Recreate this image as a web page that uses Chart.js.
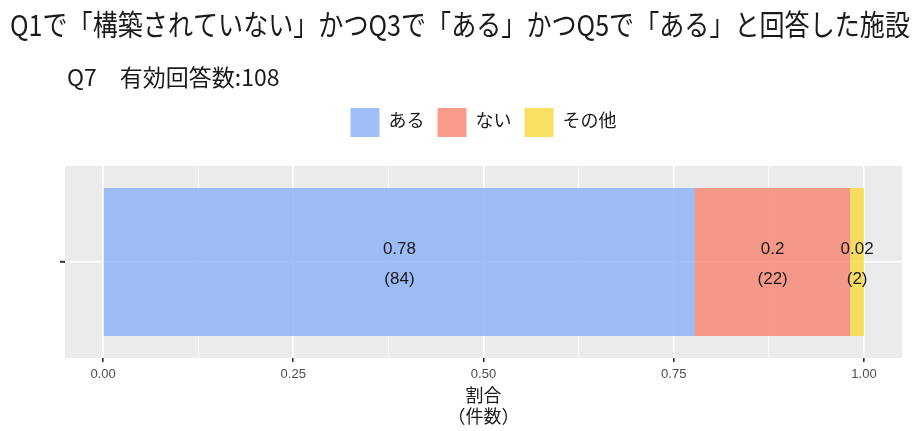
<!DOCTYPE html>
<html>
<head>
<meta charset="utf-8">
<script src="https://cdn.jsdelivr.net/npm/chart.js@4.4.1/dist/chart.umd.min.js"></script>
<style>
  html, body { margin: 0; background: #fff; }
</style>
</head>
<body>
<canvas id="chart" width="917" height="431"></canvas>
<script>
// data
const titleText = 'Q1で「構築されていない」かつQ3で「ある」かつQ5で「ある」と回答した施設';
const subtitleText = 'Q7　有効回答数:108';
const categories = ['ある', 'ない', 'その他'];
const counts = [84, 22, 2];
const shares = [0.778, 0.204, 0.018];
const xTicks = [0, 0.125, 0.25, 0.375, 0.5, 0.625, 0.75, 0.875, 1];
const xMajorTicks = [0, 0.25, 0.5, 0.75, 1];
const xTitle = ['割合', '（件数）'];

const barColors = ['rgba(143,180,247,0.85)', 'rgba(247,137,117,0.85)', 'rgba(248,219,70,0.85)'];
const jpFont = '"Liberation Sans", "Noto Sans CJK JP", sans-serif';

Chart.defaults.font.family = jpFont;
Chart.defaults.color = '#1a1a1a';

const isMajor = v => xMajorTicks.includes(v);

// grey panel like ggplot
const panelBg = {
    id: 'panelBg',
    beforeDraw(chart) {
        const { ctx, chartArea: a } = chart;
        ctx.save();
        ctx.fillStyle = '#ebebeb';
        ctx.fillRect(a.left, a.top, a.right - a.left, a.bottom - a.top);
        ctx.restore();
    }
};

// title + subtitle
const header = {
    id: 'header',
    afterDraw(chart) {
        const ctx = chart.ctx;
        ctx.save();
        ctx.fillStyle = '#1a1a1a';
        ctx.textBaseline = 'middle';
        ctx.textAlign = 'left';
        ctx.font = '29px "Noto Sans CJK JP"';
        ctx.fillText(titleText, 10, 25, 900);
        ctx.font = '23px "Noto Sans CJK JP"';
        ctx.fillText(subtitleText, 67, 77);
        ctx.restore();
    }
};

// extra space under the legend
const legendGap = {
    id: 'legendGap',
    beforeLayout(chart) {
        const lg = chart.legend;
        if (lg && !lg._gapPatched) {
            const fit = lg.fit;
            lg.fit = function () {
                fit.call(this);
                this.height += 19;
            };
            lg._gapPatched = true;
        }
    }
};

// share / count labels in the middle of each bar
const barLabels = {
    id: 'barLabels',
    afterDatasetsDraw(chart) {
        const ctx = chart.ctx;
        ctx.save();
        ctx.fillStyle = '#1a1a1a';
        ctx.textAlign = 'center';
        ctx.textBaseline = 'middle';
        ctx.font = '17px ' + jpFont;
        chart.data.datasets.forEach((ds, i) => {
            const bar = chart.getDatasetMeta(i).data[0];
            const cx = (bar.x + bar.base) / 2;
            ctx.fillText(String(Math.round(shares[i] * 100) / 100), cx, bar.y - 13);
            ctx.fillText('(' + counts[i] + ')', cx, bar.y + 17);
        });
        ctx.restore();
    }
};

new Chart(document.getElementById('chart'), {
    type: 'bar',
    data: {
        labels: [''],
        datasets: categories.map((c, i) => ({
            label: c,
            data: [shares[i]],
            backgroundColor: barColors[i],
            borderWidth: 0,
            barPercentage: 0.77,
            categoryPercentage: 1
        }))
    },
    options: {
        responsive: false,
        animation: false,
        indexAxis: 'y',
        layout: {
            padding: { top: 95, right: 15, bottom: 0, left: 0 }
        },
        plugins: {
            tooltip: { enabled: false },
            title: { display: false },
            legend: {
                position: 'top',
                fullSize: false,
                labels: {
                    boxWidth: 29,
                    boxHeight: 29,
                    padding: 13,
                    color: '#1a1a1a',
                    font: { size: 18 }
                }
            }
        },
        scales: {
            x: {
                stacked: true,
                min: -0.05,
                max: 1.05,
                afterBuildTicks: scale => {
                    scale.ticks = xTicks.map(v => ({ value: v }));
                },
                afterFit: scale => {
                    scale.height = 73;
                },
                border: { display: false },
                grid: {
                    color: '#ffffff',
                    lineWidth: c => isMajor(c.tick.value) ? 1.6 : 0.7,
                    drawTicks: true,
                    tickLength: 4,
                    tickWidth: 1.6,
                    tickColor: c => isMajor(c.tick.value) ? '#333333' : 'rgba(0,0,0,0)'
                },
                ticks: {
                    autoSkip: false,
                    maxRotation: 0,
                    padding: 5,
                    color: '#4d4d4d',
                    font: { size: 13 },
                    callback: v => isMajor(v) ? v.toFixed(2) : ''
                },
                title: {
                    display: true,
                    text: xTitle,
                    color: '#1a1a1a',
                    font: { size: 18, lineHeight: 1.2 },
                    padding: { top: 0, bottom: 2 }
                }
            },
            y: {
                stacked: true,
                afterFit: scale => {
                    scale.width = 65;
                },
                border: { display: false },
                grid: {
                    offset: false,
                    color: '#ffffff',
                    lineWidth: 1.6,
                    drawTicks: true,
                    tickLength: 5,
                    tickWidth: 2,
                    tickColor: '#333333'
                },
                ticks: { display: false }
            }
        }
    },
    plugins: [panelBg, legendGap, barLabels, header]
});
</script>
</body>
</html>
